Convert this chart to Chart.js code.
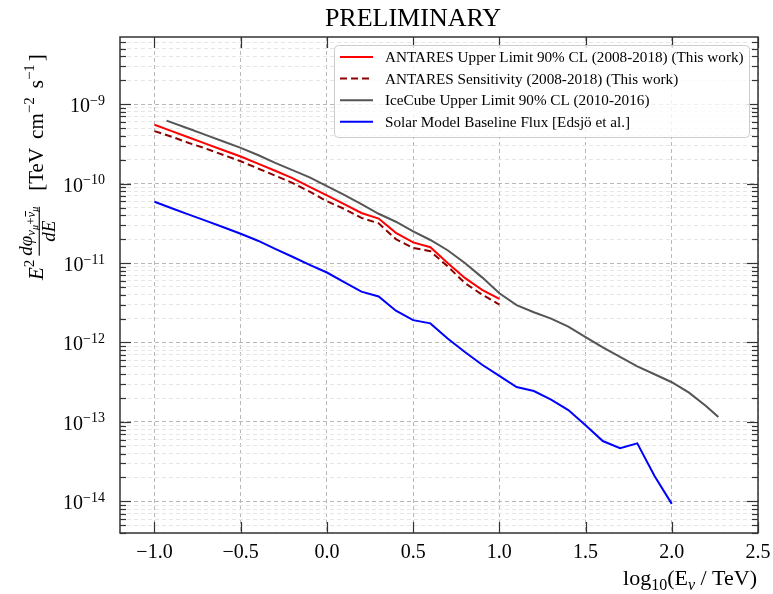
<!DOCTYPE html>
<html>
<head>
<meta charset="utf-8">
<script src="https://cdn.jsdelivr.net/npm/chart.js@4.4.1/dist/chart.umd.min.js"></script>
<style>
  html, body { margin: 0; padding: 0; background: #fff; }
  #wrap { width: 773px; height: 594px; }
</style>
</head>
<body>
<div id="wrap"><canvas id="fluxChart" width="773" height="594"></canvas></div>
<script>
// log10(E / TeV) points for each curve
const antaresLogE = [-1.0, -0.9, -0.8, -0.7, -0.6, -0.5, -0.4, -0.3, -0.2, -0.1, 0.0,
                     0.1, 0.2, 0.3, 0.4, 0.5, 0.6, 0.7, 0.8, 0.9, 1.0];
const antaresUL   = [5.5e-10, 4.57e-10, 3.8e-10, 3.16e-10, 2.63e-10, 2.19e-10, 1.78e-10, 1.45e-10, 1.17e-10, 9.1e-11, 7.1e-11,
                     5.5e-11, 4.27e-11, 3.63e-11, 2.4e-11, 1.82e-11, 1.58e-11, 1.0e-11, 6.5e-12, 4.6e-12, 3.55e-12];
const antaresSens = [4.57e-10, 3.89e-10, 3.24e-10, 2.75e-10, 2.29e-10, 1.91e-10, 1.55e-10, 1.26e-10, 1.02e-10, 7.9e-11, 6.0e-11,
                     4.8e-11, 3.7e-11, 3.16e-11, 2.0e-11, 1.55e-11, 1.41e-11, 9.1e-12, 5.6e-12, 4.0e-12, 3.0e-12];

const icecubeLogE = [-0.93, -0.8, -0.7, -0.6, -0.5, -0.4, -0.3, -0.2, -0.1, 0.0,
                     0.1, 0.2, 0.3, 0.4, 0.5, 0.6, 0.7, 0.8, 0.9, 1.0,
                     1.1, 1.2, 1.3, 1.4, 1.5, 1.6, 1.7, 1.8, 1.9, 2.0, 2.1, 2.2, 2.27];
const icecubeUL   = [6.2e-10, 4.9e-10, 4.07e-10, 3.39e-10, 2.82e-10, 2.29e-10, 1.82e-10, 1.48e-10, 1.2e-10, 9.3e-11,
                     7.2e-11, 5.5e-11, 4.17e-11, 3.31e-11, 2.51e-11, 1.95e-11, 1.45e-11, 1.0e-11, 6.6e-12, 4.17e-12,
                     2.95e-12, 2.4e-12, 2.0e-12, 1.58e-12, 1.17e-12, 8.7e-13, 6.6e-13, 5.0e-13, 3.98e-13, 3.16e-13,
                     2.34e-13, 1.58e-13, 1.15e-13];

const solarLogE = [-1.0, -0.9, -0.8, -0.7, -0.6, -0.5, -0.4, -0.3, -0.2, -0.1, 0.0,
                   0.1, 0.2, 0.3, 0.4, 0.5, 0.6, 0.7, 0.8, 0.9, 1.0,
                   1.1, 1.2, 1.3, 1.4, 1.5, 1.6, 1.7, 1.8, 1.9, 2.0];
const solarFlux = [5.9e-11, 4.9e-11, 4.07e-11, 3.39e-11, 2.82e-11, 2.34e-11, 1.91e-11, 1.51e-11, 1.2e-11, 9.5e-12, 7.6e-12,
                   5.75e-12, 4.37e-12, 3.8e-12, 2.51e-12, 1.91e-12, 1.74e-12, 1.12e-12, 7.6e-13, 5.25e-13, 3.8e-13,
                   2.75e-13, 2.45e-13, 1.91e-13, 1.41e-13, 9.1e-14, 5.75e-14, 4.68e-14, 5.37e-14, 2.09e-14, 9.3e-15];

const seriesLabels = [
    'ANTARES Upper Limit 90% CL (2008-2018) (This work)',
    'ANTARES Sensitivity (2008-2018) (This work)',
    'IceCube Upper Limit 90% CL (2010-2016)',
    'Solar Model Baseline Flux [Edsjö et al.]'
];
const seriesColors = ['#ff0000', '#8b0000', '#555555', '#0000ff'];

const xTickValues = [-1.0, -0.5, 0.0, 0.5, 1.0, 1.5, 2.0, 2.5];
const yDecades = [-14, -13, -12, -11, -10, -9];
const xRange = [-1.2, 2.5];
const yRange = [4e-15, 7e-9];

const SERIF = '"Liberation Serif", "DejaVu Serif", serif';

function pts(xs, ys) {
    return xs.map((x, i) => ({ x: x, y: ys[i] }));
}

function isDecade(v) {
    const l = Math.log10(v);
    return Math.abs(l - Math.round(l)) < 1e-6;
}

// all 1..9 x 10^n positions in range (grid + minor ticks)
function logTickValues() {
    const out = [];
    for (let e = Math.floor(Math.log10(yRange[0])); e <= Math.ceil(Math.log10(yRange[1])); e++) {
        for (let m = 1; m <= 9; m++) {
            const v = m * Math.pow(10, e);
            if (v >= yRange[0] && v <= yRange[1]) out.push({ value: v });
        }
    }
    return out;
}

function fmtX(v) {
    const s = Math.abs(v).toFixed(1);
    return v < 0 ? '\u2212' + s : s;
}

function line(ctx, x1, y1, x2, y2) {
    ctx.beginPath();
    ctx.moveTo(x1, y1);
    ctx.lineTo(x2, y2);
    ctx.stroke();
}

// rotated y label:  E^2 dphi_{nu_mu + nubar_mu}/dE [TeV cm^-2 s^-1]
function drawYLabel(ctx) {
    ctx.save();
    ctx.translate(43, 280);
    ctx.rotate(-Math.PI / 2);
    ctx.fillStyle = '#000';
    ctx.textAlign = 'left';
    ctx.textBaseline = 'alphabetic';
    const big = '21px ' + SERIF, bigI = 'italic 21px ' + SERIF;
    const sup = '15px ' + SERIF;
    const fr = 'italic 19px ' + SERIF, sub = 'italic 13px ' + SERIF, sub2 = 'italic 10px ' + SERIF, subR = '13px ' + SERIF;
    let u = 0;
    const put = (txt, font, v) => {
        ctx.font = font;
        ctx.fillText(txt, u, v);
        u += ctx.measureText(txt).width;
    };
    put('E', bigI, 0);
    put('2', sup, -9);
    u += 4;
    const f0 = u;
    // numerator
    put('d\u03c6', fr, -11);
    put('\u03bd', sub, -8);
    put('\u03bc', sub2, -5.5);
    put('+', subR, -8);
    const nb = u;
    put('\u03bd', sub, -8);
    ctx.lineWidth = 1;
    ctx.strokeStyle = '#000';
    line(ctx, nb + 1, -17.5, nb + 6.5, -17.5);
    put('\u03bc', sub2, -5.5);
    const f1 = u;
    // bar
    ctx.fillRect(f0, -4.3, f1 - f0, 1.1);
    // denominator
    ctx.font = fr;
    const dw = ctx.measureText('dE').width;
    ctx.fillText('dE', f0 + (f1 - f0 - dw) / 2, 12);
    u = f1 + 16;
    put('[TeV', big, 0);
    u += 9;
    put('cm', big, 0);
    put('\u22122', sup, -9);
    u += 9;
    put('s', big, 0);
    put('\u22121', sup, -9);
    u += 3;
    put(']', big, 0);
    ctx.restore();
}

const decor = {
    id: 'decor',
    afterDraw(chart) {
        const ctx = chart.ctx;
        const a = chart.chartArea;
        const xs = chart.scales.x, ys = chart.scales.y;
        ctx.save();

        // inward ticks
        ctx.strokeStyle = '#333';
        ctx.lineWidth = 1.2;
        xTickValues.forEach(v => {
            const px = Math.round(xs.getPixelForValue(v)) + 0.5;
            line(ctx, px, a.bottom, px, a.bottom - 11);
            line(ctx, px, a.top, px, a.top + 11);
        });
        ys.ticks.forEach(t => {
            const py = Math.round(ys.getPixelForValue(t.value)) + 0.5;
            const len = isDecade(t.value) ? 11 : 6;
            line(ctx, a.left, py, a.left + len, py);
            line(ctx, a.right, py, a.right - len, py);
        });

        // frame
        ctx.lineWidth = 1.5;
        ctx.strokeRect(a.left, a.top, a.right - a.left, a.bottom - a.top);

        // x tick labels
        ctx.fillStyle = '#000';
        ctx.font = '20px ' + SERIF;
        ctx.textAlign = 'center';
        ctx.textBaseline = 'alphabetic';
        xTickValues.forEach(v => {
            ctx.fillText(fmtX(v), xs.getPixelForValue(v), a.bottom + 25);
        });

        // y tick labels 10^n
        yDecades.forEach(e => {
            const py = ys.getPixelForValue(Math.pow(10, e));
            const exp = '\u2212' + Math.abs(e);
            ctx.font = '14px ' + SERIF;
            const ew = ctx.measureText(exp).width;
            const right = a.left - 15;
            ctx.textAlign = 'left';
            ctx.fillText(exp, right - ew, py + 0.5);
            ctx.font = '20px ' + SERIF;
            ctx.textAlign = 'right';
            ctx.fillText('10', right - ew, py + 8);
        });

        // x title: log10(E_nu / TeV)
        ctx.textAlign = 'left';
        const parts = [['log', '22px ', 0], ['10', '16px ', 5], ['(E', '22px ', 0], ['\u03bd', 'italic 16px ', 5], [' / TeV)', '22px ', 0]];
        let total = 0;
        parts.forEach(p => { ctx.font = p[1] + SERIF; total += ctx.measureText(p[0]).width; });
        let ux = 757 - total;
        parts.forEach(p => {
            ctx.font = p[1] + SERIF;
            ctx.fillText(p[0], ux, 585 + p[2]);
            ux += ctx.measureText(p[0]).width;
        });

        // title
        ctx.font = '26px ' + SERIF;
        ctx.textAlign = 'center';
        ctx.fillText('PRELIMINARY', 413, 26);

        drawYLabel(ctx);

        // legend box
        const bx = 334.5, by = 45.5, bw = 415, bh = 92, r = 4;
        ctx.beginPath();
        ctx.moveTo(bx + r, by);
        ctx.arcTo(bx + bw, by, bx + bw, by + bh, r);
        ctx.arcTo(bx + bw, by + bh, bx, by + bh, r);
        ctx.arcTo(bx, by + bh, bx, by, r);
        ctx.arcTo(bx, by, bx + bw, by, r);
        ctx.closePath();
        ctx.fillStyle = 'rgba(255,255,255,0.8)';
        ctx.fill();
        ctx.strokeStyle = '#cccccc';
        ctx.lineWidth = 1;
        ctx.stroke();

        ctx.font = '15.2px ' + SERIF;
        ctx.textAlign = 'left';
        ctx.textBaseline = 'middle';
        chart.data.datasets.forEach((ds, i) => {
            const ly = 57 + i * 21.6;
            ctx.strokeStyle = ds.borderColor;
            ctx.lineWidth = 2;
            ctx.setLineDash(ds.borderDash || []);
            line(ctx, 340, ly, 373, ly);
            ctx.setLineDash([]);
            ctx.fillStyle = '#000';
            ctx.fillText(ds.label, 385, ly + 1);
        });

        ctx.restore();
    }
};

new Chart(document.getElementById('fluxChart'), {
    type: 'line',
    data: {
        datasets: [
            { label: seriesLabels[0], data: pts(antaresLogE, antaresUL), borderColor: seriesColors[0] },
            { label: seriesLabels[1], data: pts(antaresLogE, antaresSens), borderColor: seriesColors[1], borderDash: [7, 4] },
            { label: seriesLabels[2], data: pts(icecubeLogE, icecubeUL), borderColor: seriesColors[2] },
            { label: seriesLabels[3], data: pts(solarLogE, solarFlux), borderColor: seriesColors[3] }
        ]
    },
    options: {
        responsive: false,
        animation: false,
        devicePixelRatio: 1,
        layout: { padding: { left: 120, top: 37, right: 15, bottom: 61 } },
        elements: {
            point: { radius: 0 },
            line: { borderWidth: 2, tension: 0, fill: false }
        },
        plugins: {
            legend: { display: false },
            title: { display: false },
            tooltip: { enabled: false }
        },
        scales: {
            x: {
                type: 'linear',
                min: xRange[0],
                max: xRange[1],
                afterBuildTicks: axis => { axis.ticks = xTickValues.map(v => ({ value: v })); },
                ticks: { display: false, autoSkip: false },
                grid: { color: '#b8b8b8', lineWidth: 1, drawTicks: false },
                border: { display: false, dash: [4, 3] }
            },
            y: {
                type: 'logarithmic',
                min: yRange[0],
                max: yRange[1],
                afterBuildTicks: axis => { axis.ticks = logTickValues(); },
                ticks: { display: false, autoSkip: false },
                grid: {
                    color: c => (c.tick && isDecade(c.tick.value)) ? '#b8b8b8' : '#e6e6e6',
                    lineWidth: 1,
                    drawTicks: false
                },
                border: { display: false, dash: [4, 3] }
            }
        }
    },
    plugins: [decor]
});
</script>
</body>
</html>
